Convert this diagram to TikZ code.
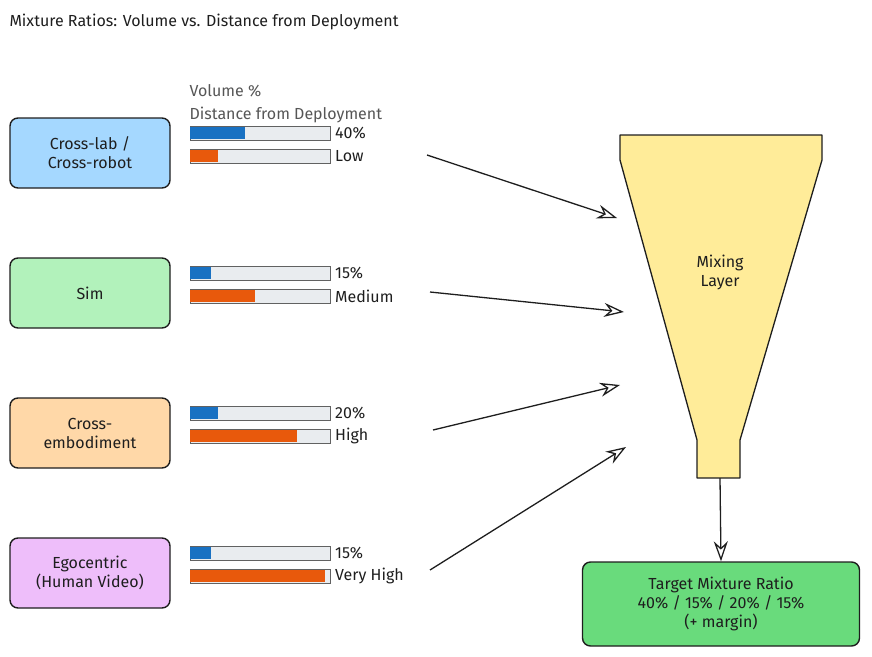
\documentclass[tikz,border=0pt]{standalone}
\usepackage{fontspec}
\setmainfont{Fira Sans}
\usetikzlibrary{arrows.meta}
\definecolor{ink}{HTML}{1e1e1e}
\definecolor{bluef}{HTML}{a5d8ff}
\definecolor{greenf}{HTML}{b2f2bb}
\definecolor{orangef}{HTML}{ffd8a8}
\definecolor{purplef}{HTML}{eebefa}
\definecolor{funf}{HTML}{ffec99}
\definecolor{tgtf}{HTML}{69db7c}
\definecolor{barb}{HTML}{1971c2}
\definecolor{baro}{HTML}{e8590c}
\definecolor{track}{HTML}{e9ecef}
\begin{document}
\begin{tikzpicture}[x=1pt,y=-1pt,font=\fontsize{16}{19}\selectfont,
  src/.style={draw=ink,line width=1.4pt,rounded corners=8pt,minimum width=160pt,minimum height=70pt,align=center,text=ink},
  trk/.style={draw=ink!70,fill=track,line width=0.6pt},
  lbl/.style={anchor=west,text=ink,inner sep=1pt},
  arr/.style={draw=ink,line width=1.3pt,-{Stealth[length=20pt,width=14pt,open]}}]
\useasboundingbox (0,0) rectangle (872,656);
\node[anchor=west,text=ink] (title) at (6,22) {Mixture Ratios: Volume vs. Distance from Deployment};
\node[anchor=west,text=ink!75] (lv) at (186,91) {Volume \%};
\node[anchor=west,text=ink!75] (ld) at (186,115) {Distance from Deployment};
\node[src,fill=bluef] (a) at (90,153) {Cross-lab~/\\Cross-robot};
\node[src,fill=greenf] (b) at (90,293) {Sim};
\node[src,fill=orangef] (c) at (90,433) {Cross-\\embodiment};
\node[src,fill=purplef] (d) at (90,573) {Egocentric\\(Human Video)};
\foreach \y/\v/\dd/\p/\t/\n in {126/245/218/40\%/Low/1,266/211/255/15\%/Medium/2,406/218/297/20\%/High/3,546/211/325/15\%/Very High/4}{
  \draw[trk] (190,\y) rectangle (330,\y+14);
  \fill[barb] (190,\y+1) rectangle (\v,\y+13);
  \draw[trk] (190,\y+23) rectangle (330,\y+37);
  \fill[baro] (190,\y+24) rectangle (\dd,\y+36);
  \node[lbl] (p\n) at (334,\y+7) {\p};
  \node[lbl] (t\n) at (334,\y+30) {\t};
}
\draw[draw=ink,line width=1.3pt,fill=funf,line join=round]
  (620,135) -- (822,135) -- (822,160) -- (740,440) -- (740,478) -- (697,478) -- (697,440) -- (620,160) -- cycle;
\node[text=ink,align=center] (m) at (720,272) {Mixing\\Layer};
\coordinate (f1) at (617,218);
\coordinate (f2) at (624,312);
\coordinate (f3) at (620,385);
\coordinate (f4) at (626,447);
\coordinate (fb) at (720,478);
\coordinate (s1) at (427,155);
\coordinate (s2) at (430,292);
\coordinate (s3) at (433,430);
\coordinate (s4) at (430,570);
\draw[arr] (s1) -- (f1);
\draw[arr] (s2) -- (f2);
\draw[arr] (s3) -- (f3);
\draw[arr] (s4) -- (f4);
\node[draw=ink,line width=1.4pt,rounded corners=8pt,fill=tgtf,minimum width=277pt,minimum height=84pt,align=center,text=ink] (t) at (721,604) {Target Mixture Ratio\\40\% / 15\% / 20\% / 15\%\\(+ margin)};
\draw[arr] (fb) -- (t.north);
\end{tikzpicture}
\end{document}
